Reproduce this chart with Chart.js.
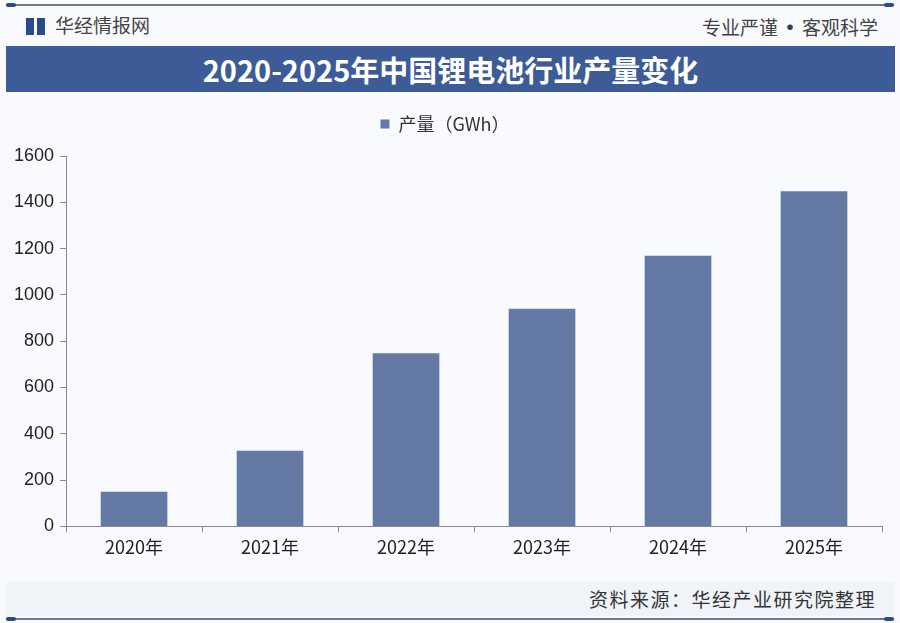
<!DOCTYPE html>
<html lang="zh">
  <head>
    <meta charset="UTF-8" />
    <title>2020-2025年中国锂电池行业产量变化</title>
    <script src="https://cdn.jsdelivr.net/npm/chart.js@4.4.0/dist/chart.umd.min.js"></script>
    <style>
      html, body { margin: 0; padding: 0; }
      body {
        width: 900px; height: 623px; position: relative; overflow: hidden;
        background: #f8fafd;
        font-family: "Noto Sans CJK SC", "Noto Sans", sans-serif;
      }
      .line { position: absolute; left: 6px; right: 6px; height: 2px; background: #6f7889; }
      .line .cap { position: absolute; top: -1px; width: 10px; height: 4px; background: #2e4a85; border-radius: 2px; }
      .line .l { left: 0; }
      .line .r { right: 0; }
      #top { top: 4px; }
      #bottom { top: 618px; }
      #brand { position: absolute; left: 26px; top: 12px; font-size: 19px; color: #444; line-height: 26px; }
      #brand .icon { display: inline-block; width: 19px; height: 17px; vertical-align: -2px; margin-right: 10px;
        background: linear-gradient(90deg, #2a4a8c 0 40%, transparent 40% 60%, #2a4a8c 60% 100%); }
      #motto { position: absolute; right: 22px; top: 12px; font-size: 19px; color: #444; line-height: 26px; }
      #motto b { font-size: 22px; margin: 0 1px; color: #3a3f4a; }
      #titlebar {
        position: absolute; left: 6px; right: 5px; top: 46px; height: 46px; background: #3d5b97;
        color: #fff; font-size: 29px; font-weight: bold; text-align: center; line-height: 46px;
      }
      #foot { position: absolute; left: 6px; right: 6px; top: 582px; height: 34px; background: #f0f3f8; }
      #source { position: absolute; right: 24px; top: 586px; font-size: 19px; color: #333; letter-spacing: 1.5px; line-height: 26px; }
      #wrap { position: absolute; left: 0; top: 100px; width: 900px; height: 470px; }
    </style>
  </head>
  <body>
    <div class="line" id="top"><span class="cap l"></span><span class="cap r"></span></div>
    <div id="brand"><span class="icon"></span>华经情报网</div>
    <div id="motto">专业严谨<b>•</b>客观科学</div>
    <div id="titlebar">2020-2025年中国锂电池行业产量变化</div>
    <div id="foot"></div>
    <div id="source">资料来源：华经产业研究院整理</div>
    <div class="line" id="bottom"><span class="cap l"></span><span class="cap r"></span></div>
    <div id="wrap"><canvas id="chart"></canvas></div>
    <script>
      // values
      const years = ["2020年", "2021年", "2022年", "2023年", "2024年", "2025年"];
      const output = [150, 327, 748, 940, 1169, 1448];
      const seriesName = "产量（GWh）";

      // extra room between legend and plot
      const legendGap = {
        id: "legendGap",
        beforeInit(chart) {
          const fit = chart.legend.fit;
          chart.legend.fit = function () {
            fit.bind(chart.legend)();
            this.height += 13;
          };
        },
      };

      const ctx = document.getElementById("chart").getContext("2d");
      new Chart(ctx, {
        type: "bar",
        data: {
          labels: years,
          datasets: [
            {
              label: seriesName,
              data: output,
              backgroundColor: "#6479a4",
              borderWidth: 0,
              categoryPercentage: 1,
              barPercentage: 0.49,
            },
          ],
        },
        plugins: [legendGap],
        options: {
          responsive: true,
          maintainAspectRatio: false,
          animation: false,
          layout: { padding: { top: 5, left: 8, right: 18, bottom: 8 } },
          plugins: {
            tooltip: { enabled: false },
            legend: {
              position: "top",
              labels: {
                boxWidth: 9,
                boxHeight: 9,
                padding: 10,
                color: "#333",
                font: { family: "'Noto Sans CJK SC'", size: 18 },
              },
            },
          },
          scales: {
            x: {
              grid: { drawOnChartArea: false, drawTicks: true, tickLength: 6, color: "#8a8a8a" },
              border: { display: true, color: "#8a8a8a", width: 1 },
              ticks: { color: "#222", padding: 4, font: { family: "'Noto Sans CJK SC'", size: 18 } },
            },
            y: {
              min: 0,
              max: 1600,
              grid: { drawOnChartArea: false, drawTicks: true, tickLength: 6, color: "#8a8a8a" },
              border: { display: true, color: "#8a8a8a", width: 1 },
              ticks: {
                stepSize: 200,
                color: "#222",
                padding: 6,
                font: { family: "'Liberation Sans'", size: 18 },
                callback: (v) => String(v),
              },
            },
          },
        },
      });
    </script>
  </body>
</html>
